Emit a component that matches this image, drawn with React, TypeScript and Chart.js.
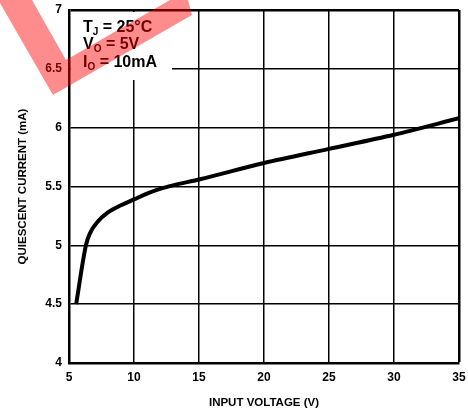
import React, { useEffect, useRef } from "react";
import { Chart, registerables } from "chart.js";

Chart.register(...registerables);

const inputVoltage = [5.55, 6.3, 6.6, 7.2, 8, 9, 10, 11, 12, 13, 15, 20, 25, 30, 35];
const quiescentCurrent = [4.5, 5.0, 5.1, 5.2, 5.28, 5.34, 5.39, 5.44, 5.48, 5.51, 5.56, 5.7, 5.82, 5.94, 6.08];
const annotationLines = [
  { main: "T", sub: "J", rest: " = 25°C" },
  { main: "V", sub: "O", rest: " = 5V" },
  { main: "I", sub: "O", rest: " = 10mA" },
];
const xTitle = "INPUT VOLTAGE (V)";
const yTitle = "QUIESCENT CURRENT (mA)";

const FONT = "'Liberation Sans', Arial, Helvetica, sans-serif";

export default function App() {
  const ref = useRef<HTMLCanvasElement | null>(null);

  useEffect(() => {
    const canvas = ref.current;
    if (!canvas) return;

    const overlay = {
      id: "overlay",
      beforeDatasetsDraw(chart: any) {
        const ctx = chart.ctx;
        const area = chart.chartArea;
        ctx.save();
        ctx.fillStyle = "#ffffff";
        ctx.fillRect(area.left + 2, area.top + 2, 172 - area.left - 2, 80 - area.top - 2);
        ctx.fillStyle = "#000000";
        ctx.textBaseline = "alphabetic";
        const baselines = [32, 49, 67];
        annotationLines.forEach((ln, i) => {
          let x = area.left + 14;
          const y = baselines[i];
          ctx.font = `bold 16px ${FONT}`;
          ctx.fillText(ln.main, x, y);
          x += ctx.measureText(ln.main).width;
          ctx.font = `bold 10px ${FONT}`;
          ctx.fillText(ln.sub, x, y + 3);
          x += ctx.measureText(ln.sub).width;
          ctx.font = `bold 16px ${FONT}`;
          ctx.fillText(ln.rest, x, y);
        });
        ctx.restore();
      },
      afterDraw(chart: any) {
        const ctx = chart.ctx;
        ctx.save();
        ctx.fillStyle = "rgba(255, 0, 0, 0.45)";
        ctx.beginPath();
        ctx.moveTo(0, 0);
        ctx.lineTo(32, 0);
        ctx.lineTo(66, 60);
        ctx.lineTo(170, 0);
        ctx.lineTo(188, 0);
        ctx.lineTo(192, 15);
        ctx.lineTo(53, 95);
        ctx.lineTo(0, 3);
        ctx.closePath();
        ctx.fill();
        ctx.restore();
      },
    };

    const chart = new Chart(canvas, {
      type: "line",
      data: {
        datasets: [
          {
            data: inputVoltage.map((v, i) => ({ x: v, y: quiescentCurrent[i] })),
            borderColor: "#000000",
            borderWidth: 4,
            pointRadius: 0,
            cubicInterpolationMode: "monotone",
            fill: false,
          },
        ],
      },
      options: {
        animation: false,
        responsive: false,
        devicePixelRatio: 1,
        layout: { padding: { left: 0, top: 10, right: 9, bottom: 0 } },
        plugins: { legend: { display: false }, tooltip: { enabled: false } },
        scales: {
          x: {
            type: "linear",
            min: 5,
            max: 35,
            afterFit(scale: any) {
              scale.height = 49;
              scale.paddingRight = 0;
              scale.paddingLeft = 0;
            },
            ticks: {
              stepSize: 5,
              color: "#000",
              padding: 7,
              font: { family: FONT, size: 12, weight: "bold" },
            },
            grid: {
              color: "#000",
              lineWidth: (c: any) => (c.index === 6 ? 2.5 : 1.5),
              drawTicks: false,
            },
            border: { color: "#000", width: 2.5 },
            title: {
              display: true,
              text: xTitle,
              color: "#000",
              font: { family: FONT, size: 11.5, weight: "bold" },
              padding: { top: 0, bottom: 2 },
            },
          },
          y: {
            type: "linear",
            min: 4,
            max: 7,
            ticks: {
              stepSize: 0.5,
              color: "#000",
              padding: 7,
              font: { family: FONT, size: 12, weight: "bold" },
              callback: (v: any) => String(Number(v)),
            },
            grid: {
              color: "#000",
              lineWidth: (c: any) => (c.index === 6 ? 2.5 : 1.5),
              drawTicks: false,
            },
            border: { color: "#000", width: 2.5 },
            title: {
              display: true,
              text: yTitle,
              color: "#000",
              font: { family: FONT, size: 11.5, weight: "bold" },
              padding: { top: 16, bottom: 0 },
            },
            afterFit(scale: any) {
              scale.width = 69;
              scale.paddingTop = 0;
              scale.paddingBottom = 0;
            },
          },
        },
      },
      plugins: [overlay],
    } as any);

    return () => chart.destroy();
  }, []);

  return (
    <div style={{ position: "absolute", left: 0, top: 0, width: 468, height: 412, background: "#fff" }}>
      <canvas ref={ref} width={468} height={412} />
    </div>
  );
}
